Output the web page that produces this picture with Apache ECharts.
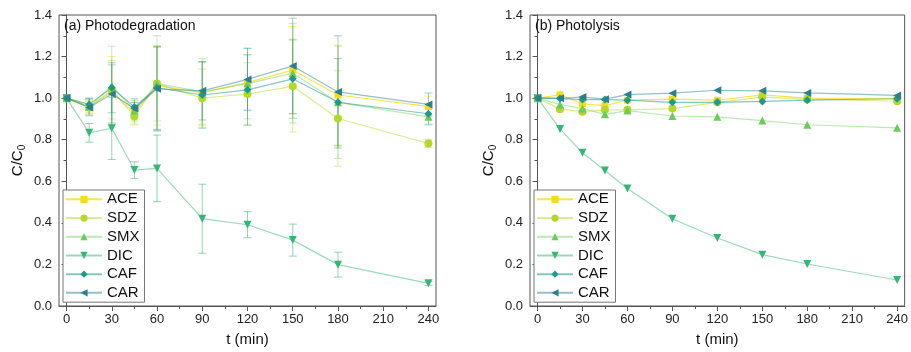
<!DOCTYPE html>
<html><head><meta charset="utf-8">
<script src="https://cdn.jsdelivr.net/npm/echarts@6/dist/echarts.min.js"></script>
<style>html,body{margin:0;padding:0;background:#fff}#c{width:911px;height:352px}</style>
</head><body><div id="c"></div>
<script>
const times = [0, 15, 30, 45, 60, 90, 120, 150, 180, 240];
const seriesNames = ['ACE', 'SDZ', 'SMX', 'DIC', 'CAF', 'CAR'];
const xTickLabels = [0, 30, 60, 90, 120, 150, 180, 210, 240];
const xMinorTicks = [15, 45, 75, 105, 135, 165, 195, 225];
const panelTitles = ['(a) Photodegradation', '(b) Photolysis'];

// (a) Photodegradation
const photoACE = [1.0, 0.96, 1.03, 0.93, 1.06, 1.025, 1.075, 1.135, 1.015, 0.96];
const photoSDZ = [1.0, 0.955, 1.04, 0.912, 1.07, 1.0, 1.02, 1.057, 0.902, 0.782];
const photoSMX = [1.0, 0.96, 1.06, 0.94, 1.07, 1.03, 1.07, 1.12, 0.98, 0.91];
const photoDIC = [1.0, 0.833, 0.855, 0.654, 0.662, 0.42, 0.391, 0.317, 0.199, 0.109];
const photoCAF = [1.0, 0.97, 1.05, 0.957, 1.05, 1.015, 1.04, 1.093, 0.98, 0.925];
const photoCAR = [1.0, 0.955, 1.02, 0.95, 1.045, 1.035, 1.09, 1.155, 1.03, 0.97];
// error bars (a)
const errACE = [0, 0.03, 0.17, 0.05, 0.19, 0.15, 0.13, 0.21, 0.24, 0.05];
const errSDZ = [0, 0.03, 0.14, 0.04, 0.18, 0.14, 0.15, 0.22, 0.23, 0.02];
const errSMX = [0, 0.04, 0.19, 0.05, 0.23, 0.16, 0.17, 0.24, 0.27, 0.04];
const errDIC = [0, 0.045, 0.15, 0.04, 0.16, 0.166, 0.063, 0.077, 0.06, 0.01];
const errCAF = [0, 0.03, 0.12, 0.04, 0.2, 0.16, 0.17, 0.19, 0.21, 0.05];
const errCAR = [0, 0.04, 0.14, 0.03, 0.2, 0.14, 0.15, 0.23, 0.27, 0.055];

// (b) Photolysis
const lysisACE = [1.0, 1.016, 0.973, 0.964, 0.99, 0.995, 0.99, 1.016, 1.0, 0.997];
const lysisSDZ = [1.0, 0.947, 0.935, 0.944, 0.944, 0.95, 0.98, 1.005, 0.995, 0.985];
const lysisSMX = [1.0, 0.97, 0.95, 0.922, 0.94, 0.914, 0.91, 0.892, 0.872, 0.857];
const lysisDIC = [1.0, 0.852, 0.737, 0.652, 0.565, 0.42, 0.327, 0.247, 0.202, 0.125];
const lysisCAF = [1.0, 0.998, 0.993, 0.993, 0.99, 0.98, 0.98, 0.984, 0.99, 0.997];
const lysisCAR = [1.0, 1.0, 1.005, 0.995, 1.017, 1.024, 1.038, 1.035, 1.025, 1.013];

const photo = [photoACE, photoSDZ, photoSMX, photoDIC, photoCAF, photoCAR];
const photoErr = [errACE, errSDZ, errSMX, errDIC, errCAF, errCAR];
const lysis = [lysisACE, lysisSDZ, lysisSMX, lysisDIC, lysisCAF, lysisCAR];

const colors = ['#f3dc18', '#b2d92a', '#6ccb59', '#36b676', '#1f9a88', '#2b7f8f'];
const lineColors = ['rgba(243,220,24,0.75)', 'rgba(178,217,42,0.5)', 'rgba(108,203,89,0.45)', 'rgba(54,182,118,0.5)', 'rgba(31,154,136,0.55)', 'rgba(43,127,143,0.5)'];
const errColors = ['rgba(243,220,24,0.5)', 'rgba(178,217,42,0.45)', 'rgba(108,203,89,0.4)', 'rgba(54,182,118,0.55)', 'rgba(31,154,136,0.4)', 'rgba(43,127,143,0.4)'];
const symbols = ['rect', 'circle', 'triangle', 'triangle', 'diamond', 'triangle'];
const symRot = [0, 0, 0, 180, 0, 90];
const symSize = [7, 8, 8, 8, 8, 8];
const FONT = '"Liberation Sans", Arial, sans-serif';

const chart = echarts.init(document.getElementById('c'), null, {renderer: 'canvas'});

const grids = [
  {left: 59, right: 475, top: 15, bottom: 45, show: true, borderColor: '#555', borderWidth: 1, backgroundColor: 'transparent'},
  {left: 530, right: 4, top: 15, bottom: 45, show: true, borderColor: '#555', borderWidth: 1, backgroundColor: 'transparent'}
];

const xAxes = [];
const yAxes = [];
[0, 1].forEach(g => {
  xAxes.push({
    type: 'value', gridIndex: g, min: -5, max: 245,
    name: 't (min)', nameLocation: 'middle', nameGap: 26,
    nameTextStyle: {fontFamily: FONT, fontSize: 15, color: '#111'},
    axisLine: {show: true, lineStyle: {color: '#555', width: 1}},
    axisTick: {show: true, length: 5, customValues: xTickLabels, lineStyle: {color: '#555'}},
    axisLabel: {customValues: xTickLabels, fontFamily: FONT, fontSize: 13, color: '#222', margin: 7},
    splitLine: {show: false}
  });
  xAxes.push({
    type: 'value', gridIndex: g, min: -5, max: 245, position: 'bottom',
    axisLine: {show: false},
    axisTick: {show: true, length: 3, customValues: xMinorTicks, lineStyle: {color: '#555'}},
    axisLabel: {show: false, customValues: xMinorTicks},
    splitLine: {show: false}
  });
  yAxes.push({
    type: 'value', gridIndex: g, min: 0, max: 1.4, interval: 0.2,
    name: '{a|C/C}{s|0}', nameLocation: 'middle', nameGap: 32,
    nameTextStyle: {fontFamily: FONT, fontSize: 15, color: '#111',
      rich: {a: {fontFamily: FONT, fontSize: 15, color: '#111'}, s: {fontFamily: FONT, fontSize: 10, color: '#111', padding: [8, 0, 0, 0]}}},
    axisLine: {show: true, lineStyle: {color: '#555', width: 1}},
    axisTick: {show: true, length: 5, lineStyle: {color: '#555'}},
    minorTick: {show: true, splitNumber: 2, length: 3, lineStyle: {color: '#555'}},
    axisLabel: {fontFamily: FONT, fontSize: 13, color: '#222', margin: 7, formatter: v => v.toFixed(1)},
    splitLine: {show: false}
  });
});

function errRender(color) {
  return function (params, api) {
    const x = api.value(0), y = api.value(1), e = api.value(2);
    if (!e) return null;
    const top = api.coord([x, y + e]);
    const bot = api.coord([x, y - e]);
    const w = 4;
    const st = {stroke: color, lineWidth: 1};
    return {
      type: 'group',
      children: [
        {type: 'line', shape: {x1: top[0], y1: top[1], x2: bot[0], y2: bot[1]}, style: st},
        {type: 'line', shape: {x1: top[0] - w, y1: top[1], x2: top[0] + w, y2: top[1]}, style: st},
        {type: 'line', shape: {x1: bot[0] - w, y1: bot[1], x2: bot[0] + w, y2: bot[1]}, style: st}
      ]
    };
  };
}

const series = [];
seriesNames.forEach((n, i) => {
  series.push({
    name: 'err-' + n, type: 'custom', xAxisIndex: 0, yAxisIndex: 0, z: 1,
    renderItem: errRender(errColors[i]),
    encode: {x: 0, y: 1},
    data: times.map((t, k) => [t, photo[i][k], photoErr[i][k]]),
    silent: true, clip: false
  });
});
[[photo, 0, 0], [lysis, 2, 1]].forEach(([set, xi, yi]) => {
  seriesNames.forEach((n, i) => {
    series.push({
      name: n, type: 'line', xAxisIndex: xi, yAxisIndex: yi, z: 3,
      data: times.map((t, k) => [t, set[i][k]]),
      symbol: symbols[i], symbolRotate: symRot[i], symbolSize: symSize[i],
      showSymbol: true, animation: false,
      itemStyle: {color: colors[i]},
      lineStyle: {color: lineColors[i], width: 1.2}
    });
  });
});

const legendBase = {
  orient: 'vertical', top: 190, data: seriesNames,
  itemWidth: 36, itemHeight: 9, itemGap: 2,
  padding: [1, 5, 1, 2],
  borderColor: '#777', borderWidth: 1, backgroundColor: '#fff',
  textStyle: {fontFamily: FONT, fontSize: 15, color: '#111', lineHeight: 16.7},
  selectedMode: false
};

chart.setOption({
  animation: false,
  backgroundColor: '#fff',
  title: [
    {text: panelTitles[0], left: 64, top: 19, padding: 0, textStyle: {fontFamily: FONT, fontSize: 14, fontWeight: 'normal', color: '#111'}},
    {text: panelTitles[1], left: 535, top: 19, padding: 0, textStyle: {fontFamily: FONT, fontSize: 14, fontWeight: 'normal', color: '#111'}}
  ],
  grid: grids,
  xAxis: xAxes,
  yAxis: yAxes,
  legend: [
    Object.assign({}, legendBase, {left: 63}),
    Object.assign({}, legendBase, {left: 534})
  ],
  series: series
});
</script></body></html>
